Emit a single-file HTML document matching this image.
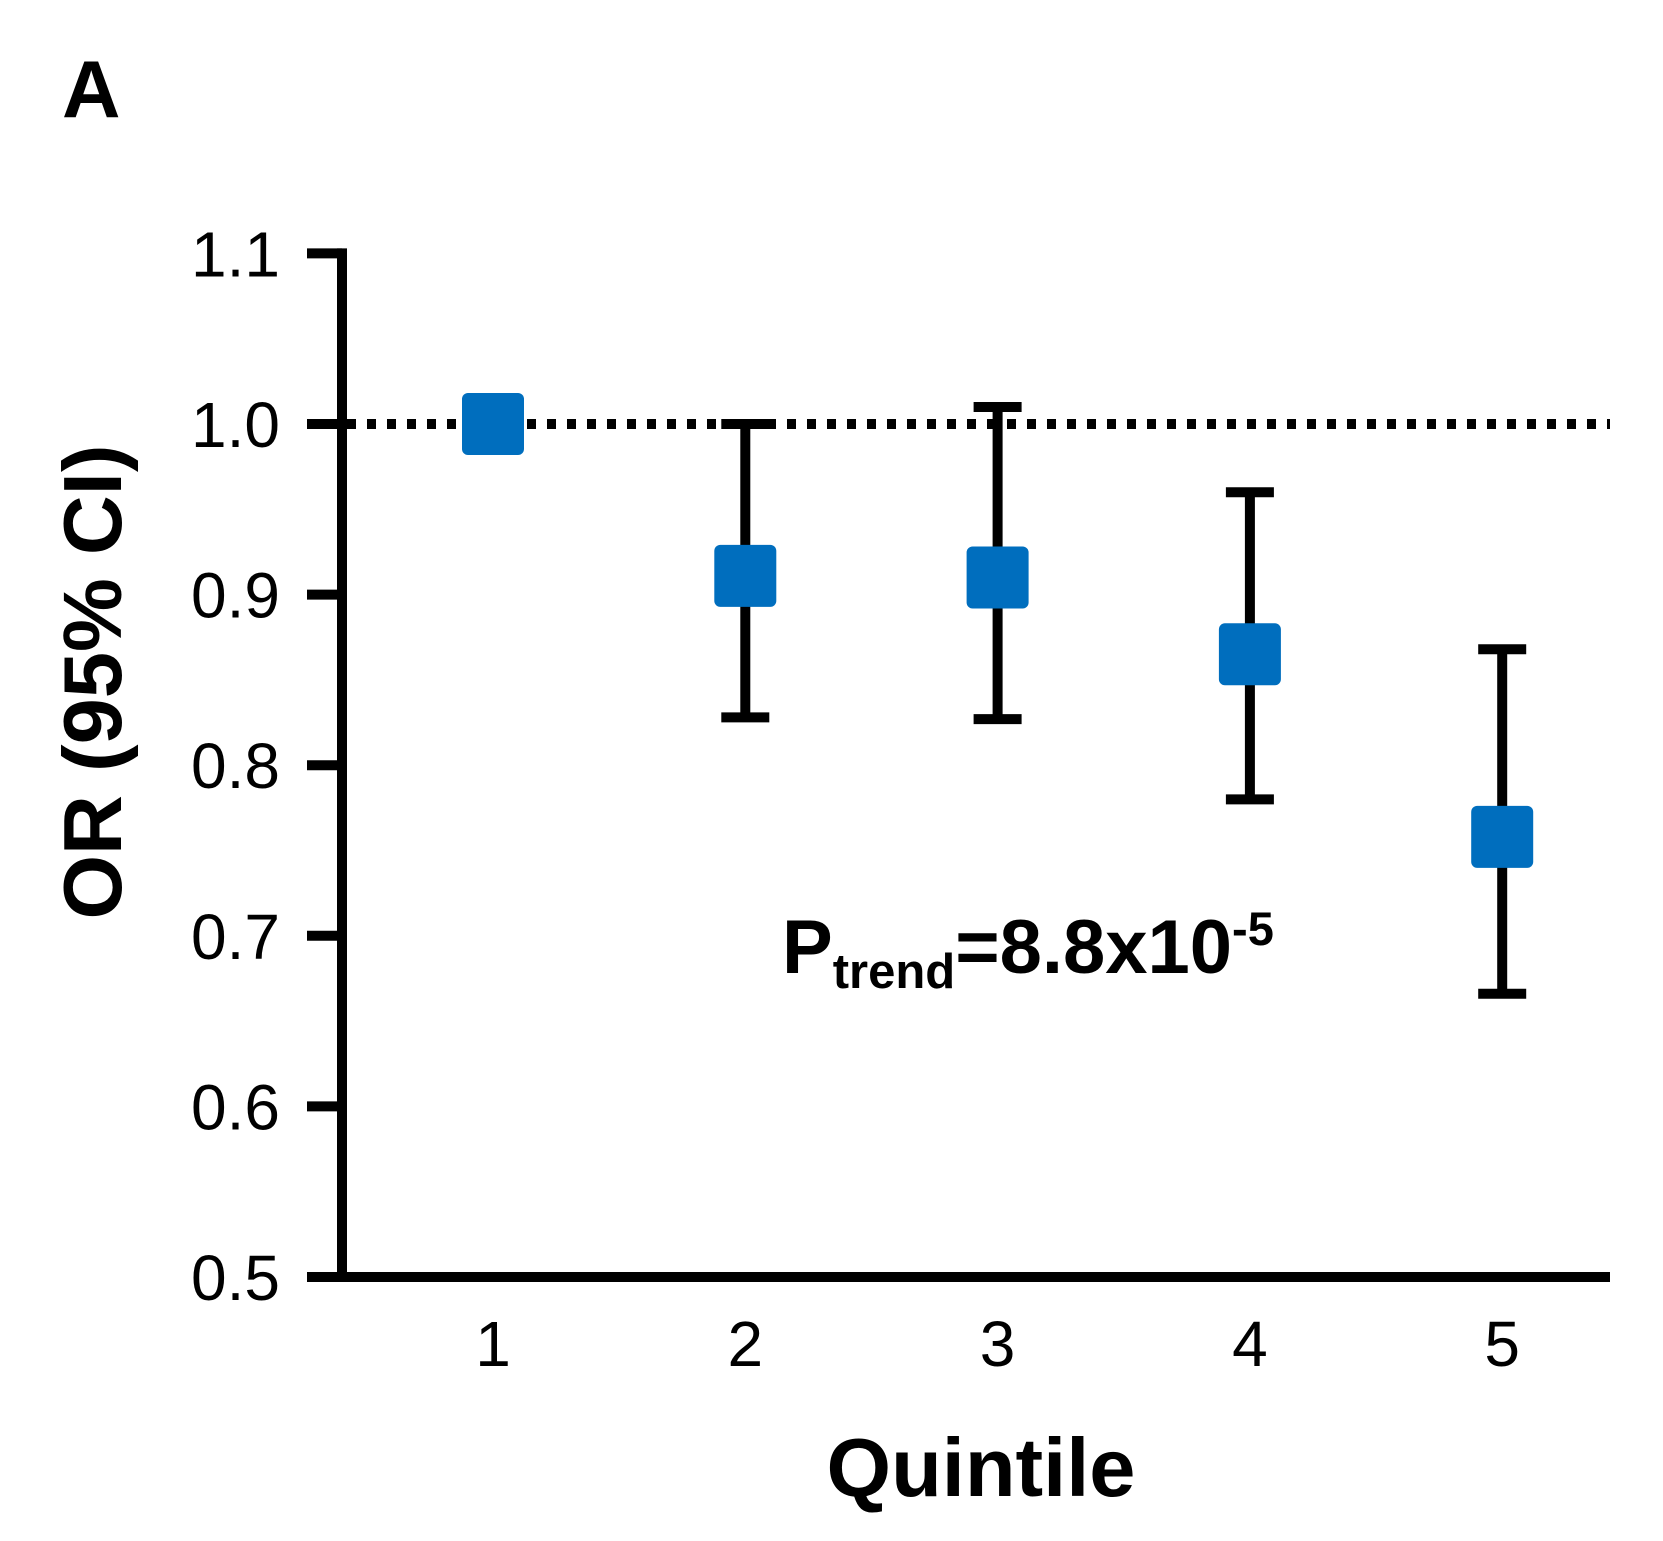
<!DOCTYPE html>
<html><head><meta charset="utf-8"><style>
html,body{margin:0;padding:0;background:#fff;}
svg{display:block;font-family:"Liberation Sans",Arial,sans-serif;}
</style></head><body>
<svg id="chart" width="1663" height="1541" viewBox="0 0 1663 1541" xmlns="http://www.w3.org/2000/svg">
<text x="62" y="117" font-size="81" font-weight="bold">A</text>
<text transform="translate(121,682) rotate(-90)" text-anchor="middle" font-size="83" font-weight="bold">OR (95% CI)</text>
<text x="981" y="1496" text-anchor="middle" font-size="83" font-weight="bold">Quintile</text>
<text x="782" y="973" font-size="76" font-weight="bold">P<tspan font-size="49" dy="15">trend</tspan><tspan dy="-15">=8.8x10</tspan><tspan font-size="47" dy="-28">-5</tspan></text>
<g id="layer"></g>
</svg>
<script>
const categories = ["1","2","3","4","5"];
const orValues = [1.0, 0.911, 0.91, 0.865, 0.758];
const ciLower = [1.0, 0.828, 0.827, 0.78, 0.666];
const ciUpper = [1.0, 1.0, 1.01, 0.96, 0.868];
const yTicks = [0.5, 0.6, 0.7, 0.8, 0.9, 1.0, 1.1];
const yTickLabels = ["0.5","0.6","0.7","0.8","0.9","1.0","1.1"];
const refValue = 1.0;

const NS = "http://www.w3.org/2000/svg";
const g = document.getElementById('layer');
function yScale(v){ return 1277 - (v - 0.5) * 1706; }
function xScale(i){ return 493 + i * 252.3; }
function mk(tag, attrs){ const e = document.createElementNS(NS, tag); for (const k in attrs) e.setAttribute(k, attrs[k]); g.appendChild(e); return e; }

let ref = mk('line', {x1:347, x2:1610, y1:yScale(refValue), y2:yScale(refValue), stroke:'#000', 'stroke-width':10, 'stroke-dasharray':'9 11'});



let ya = mk('line', {x1:342, x2:342, y1:yScale(1.1)-5, y2:1282, stroke:'#000', 'stroke-width':10});


let xa = mk('line', {x1:307, x2:1610, y1:1277, y2:1277, stroke:'#000', 'stroke-width':10});



yTicks.forEach((v, i) => {
  const y = yScale(v);
  let t = mk('line', {x1:307, x2:342, y1:y, y2:y, stroke:'#000', 'stroke-width':10});
  
  
  let l = mk('text', {x:280, y:y+23, 'text-anchor':'end', 'font-size':64});
  l.textContent = yTickLabels[i];
  
  
});

categories.forEach((c, i) => {
  const x = xScale(i);
  let l = mk('text', {x:x, y:1366, 'text-anchor':'middle', 'font-size':64});
  l.textContent = c;
  
  
  if (ciUpper[i] !== ciLower[i]) {
    let eb = mk('line', {x1:x, x2:x, y1:yScale(ciUpper[i]), y2:yScale(ciLower[i]), stroke:'#000', 'stroke-width':10});
    
    
    let cu = mk('line', {x1:x-24, x2:x+24, y1:yScale(ciUpper[i]), y2:yScale(ciUpper[i]), stroke:'#000', 'stroke-width':10});
    
    
    let cl = mk('line', {x1:x-24, x2:x+24, y1:yScale(ciLower[i]), y2:yScale(ciLower[i]), stroke:'#000', 'stroke-width':10});
    
    
  }
  let m = mk('rect', {x:x-31, y:yScale(orValues[i])-31, width:62, height:62, rx:6, fill:'#006ebe'});
  
  
});
</script>
</body></html>
